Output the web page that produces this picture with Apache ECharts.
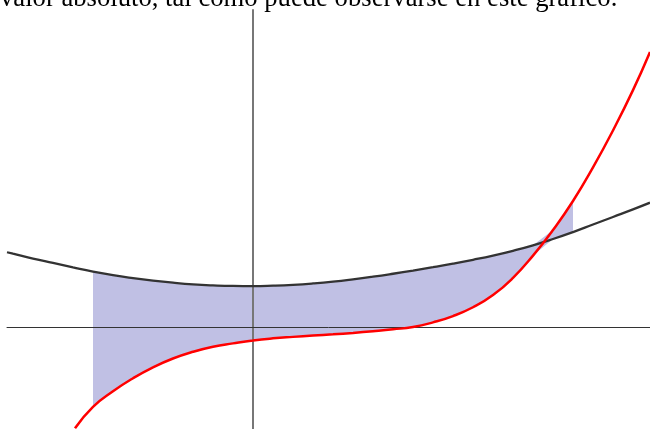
<!DOCTYPE html>
<html>
<head>
<meta charset="utf-8">
<script src="https://cdn.jsdelivr.net/npm/echarts@6/dist/echarts.min.js"></script>
<style>
html,body{margin:0;padding:0;background:#fff;}
#chart{width:650px;height:429px;}
</style>
</head>
<body>
<div id="chart"></div>
<script>
// Caption text (clipped at the top in the reference)
const captionText = 'valor absoluto, tal como puede observarse en este gráfico.';

// Sample x positions shared by the curves
const curveX = [-3.075,-3,-2.75,-2.5,-2.25,-2,-1.75,-1.5,-1.25,-1,-0.75,-0.5,-0.25,0,0.25,0.5,0.75,1,1.25,1.5,1.75,2,2.25,2.5,2.75,3,3.25,3.5,3.75,4,4.25,4.5,4.75,4.9625];
// Black curve values
const parabolaY = [1.78,1.745,1.63,1.525,1.42,1.32,1.235,1.165,1.105,1.055,1.015,0.99,0.977,0.975,0.985,1.005,1.037,1.08,1.135,1.198,1.268,1.343,1.423,1.508,1.6,1.7,1.815,1.945,2.095,2.26,2.44,2.62,2.80,2.96];

// Red curve values
const cubicX = [-2.225,-2,-1.75,-1.5,-1.25,-1,-0.75,-0.5,-0.25,0,0.25,0.5,0.75,1,1.25,1.5,1.75,2,2.25,2.5,2.75,3,3.25,3.5,3.75,4,4.25,4.5,4.75,4.9625];
const cubicY = [-2.41,-1.9,-1.53,-1.22,-0.96,-0.75,-0.59,-0.47,-0.39,-0.32,-0.27,-0.235,-0.205,-0.175,-0.14,-0.1,-0.055,0.0,0.11,0.26,0.47,0.76,1.17,1.70,2.31,3.0,3.8,4.68,5.64,6.55];

// Shaded interval
const shadeFrom = -2;
const shadeTo = 4;

// Axis extents
const xMin = -3.075, xMax = 4.9625;
const yMin = -2.4286, yMax = 7.548;

const parabolaData = curveX.map((x, i) => [x, parabolaY[i]]);
const cubicData = cubicX.map((x, i) => [x, cubicY[i]]);
const fillRows = [];
curveX.forEach((x, i) => {
  if (x < shadeFrom || x > shadeTo) return;
  const j = cubicX.indexOf(x);
  if (j < 0) return;
  const a = parabolaY[i], b = cubicY[j];
  fillRows.push([x, Math.max(a, b), Math.min(a, b)]);
});

const chart = echarts.init(document.getElementById('chart'), null, {renderer: 'canvas'});
chart.setOption({
  animation: false,
  backgroundColor: '#ffffff',
  grid: {left: 7, right: 0, top: 10, bottom: 0, containLabel: false},
  xAxis: {
    type: 'value', min: xMin, max: xMax, z: 2,
    axisLine: {show: true, onZero: true, lineStyle: {color: '#333333', width: 1}},
    axisTick: {show: false}, axisLabel: {show: false}, splitLine: {show: false}
  },
  yAxis: {
    type: 'value', min: yMin, max: yMax, z: 2,
    axisLine: {show: true, onZero: true, lineStyle: {color: '#777777', width: 2}},
    axisTick: {show: false}, axisLabel: {show: false}, splitLine: {show: false}
  },
  graphic: [{
    type: 'text', x: 0, y: -1.5, z: 10,
    style: {
      text: captionText,
      font: '26.67px "Liberation Serif"', fill: '#000000',
      verticalAlign: 'middle', align: 'left'
    }
  }],
  series: [
    {
      type: 'custom', z: 1, silent: true,
      data: fillRows,
      encode: {x: 0, y: [1, 2]},
      renderItem: function (params, api) {
        if (params.dataIndex !== 0) return;
        const pts = [];
        fillRows.forEach(r => pts.push(api.coord([r[0], r[1]])));
        for (let k = fillRows.length - 1; k >= 0; k--) pts.push(api.coord([fillRows[k][0], fillRows[k][2]]));
        return {type: 'polygon', shape: {points: pts}, style: {fill: '#c0c0e4'}};
      }
    },
    {
      type: 'line', z: 3, data: parabolaData, showSymbol: false, smooth: true,
      lineStyle: {color: '#333333', width: 2.3}
    },
    {
      type: 'line', z: 4, data: cubicData, showSymbol: false, smooth: true,
      lineStyle: {color: '#ff0000', width: 2.5}
    }
  ]
});
</script>
</body>
</html>
